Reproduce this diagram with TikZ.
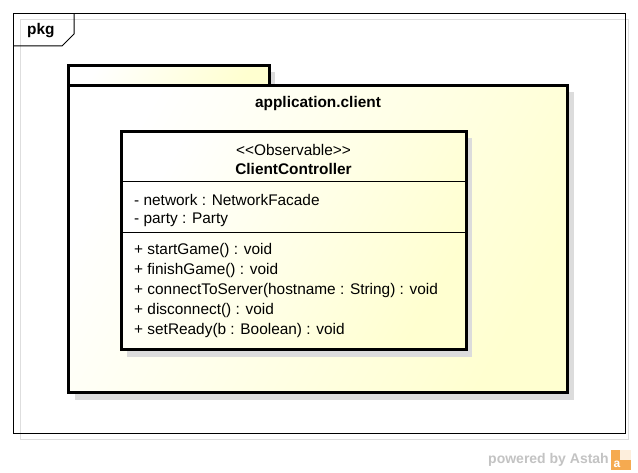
\documentclass[tikz,border=0pt]{standalone}
\usepackage{fontspec}
\setmainfont{Liberation Sans}
\begin{document}
\definecolor{umlfill}{RGB}{255,255,208}
\definecolor{shadowgray}{RGB}{220,220,220}
\definecolor{framegray}{RGB}{222,222,222}
\definecolor{markgray}{RGB}{195,195,195}
\definecolor{logoorange}{RGB}{245,170,80}
\tikzset{
  px/.style={x=1pt,y=-1pt},
  thickborder/.style={draw=black,line width=3pt},
  umlshade/.style={left color=white,right color=umlfill,shading angle=60},
  shadowbox/.style={fill=shadowgray,draw=none},
  uml/.style={font=\fontsize{15.4}{18}\selectfont,anchor=west,inner sep=0pt},
  umlbold/.style={font=\fontsize{15.4}{18}\selectfont\bfseries,inner sep=0pt},
}
\begin{tikzpicture}[px]
\useasboundingbox (0,0) rectangle (638,473);
\fill[white] (0,0) rectangle (638,473);

% diagram frame
\draw[framegray,line width=1pt] (20,20) rectangle (628,439);
\draw[black,line width=1pt] (13,14) rectangle (625,433);
\draw[black,line width=1pt] (13,46) -- (62,46) -- (74,34) -- (74,14);
\node[umlbold,anchor=west] (pkglabel) at (27,31) {pkg};

% package shadow
\fill[shadowbox] (75,72) rectangle (275,92);
\fill[shadowbox] (75,92) rectangle (574,400);
% package tab and body
\shade[umlshade] (68,66) rectangle (269,86);
\draw[thickborder] (68,66) rectangle (269,86);
\shade[umlshade] (68,86) rectangle (567,393);
\draw[thickborder] (68,86) rectangle (567,393);
\node[umlbold] (pkgname) at (318,104) {application.client};

% class shadow
\fill[shadowbox] (127,138) rectangle (472,357);
% class box
\shade[umlshade] (121,132) rectangle (466,350);
\draw[thickborder] (121,132) rectangle (466,350);
\draw[black,line width=1pt] (121,182) -- (466,182);
\draw[black,line width=1pt] (121,233) -- (466,233);

% the kerns keep the font mapping from joining << and >> into guillemets
\node[inner sep=0pt,font=\fontsize{15.4}{18}\selectfont] (stereo) at (293.5,150) {<\kern0pt<Observable>\kern0pt>};
\node[umlbold] (cname) at (293.5,169) {ClientController};

\node[uml] (a1) at (134,200) {- network : NetworkFacade};
\node[uml] (a2) at (134,220) {- party : Party};

\node[uml] (o1) at (134,251) {+ startGame() : void};
\node[uml] (o2) at (134,271) {+ finishGame() : void};
\node[uml] (o3) at (134,291) {+ connectToServer(hostname : String) : void};
\node[uml] (o4) at (134,311) {+ disconnect() : void};
\node[uml] (o5) at (134,331) {+ setReady(b : Boolean) : void};

% watermark
\node[anchor=east,inner sep=0pt,text=markgray,font=\fontsize{14}{16}\selectfont\bfseries] (mark) at (609,460) {powered by Astah};
\fill[logoorange] (611,450) rectangle (631,470);
\fill[white!80!logoorange] (620,450) rectangle (631,460);
\node[inner sep=0pt,text=white,font=\fontsize{12}{12}\selectfont\bfseries] (logo) at (617,464) {a};
\end{tikzpicture}
\end{document}
